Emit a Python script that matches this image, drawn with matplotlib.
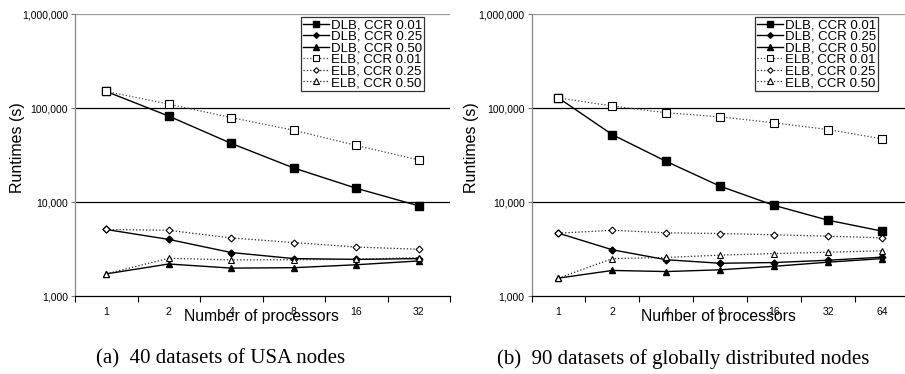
import matplotlib
matplotlib.use("Agg")
import matplotlib.pyplot as plt
import numpy as np
from matplotlib.ticker import FixedLocator, NullLocator, FuncFormatter

# ---- data ----
procs_a = ["1", "2", "4", "8", "16", "32"]
dlb_001_a = [150000, 82000, 42000, 23000, 14000, 9100]
dlb_025_a = [5100, 4000, 2900, 2500, 2450, 2500]
dlb_050_a = [1720, 2190, 1980, 2000, 2150, 2360]
elb_001_a = [150000, 110000, 79000, 58000, 40000, 28000]
elb_025_a = [5100, 5000, 4150, 3700, 3320, 3140]
elb_050_a = [1720, 2520, 2420, 2430, 2460, 2560]

procs_b = ["1", "2", "4", "8", "16", "32", "64"]
dlb_001_b = [128000, 52000, 27000, 14700, 9200, 6400, 4900]
dlb_025_b = [4660, 3100, 2430, 2230, 2270, 2400, 2590]
dlb_050_b = [1550, 1870, 1820, 1900, 2070, 2290, 2500]
elb_001_b = [128000, 105000, 89000, 80500, 69500, 59000, 47000]
elb_025_b = [4660, 5000, 4700, 4620, 4480, 4330, 4160]
elb_050_b = [1550, 2500, 2570, 2720, 2830, 2920, 3030]

labels = ["DLB, CCR 0.01", "DLB, CCR 0.25", "DLB, CCR 0.50",
          "ELB, CCR 0.01", "ELB, CCR 0.25", "ELB, CCR 0.50"]
yticks = [1000, 10000, 100000, 1000000]
captions = ["(a)  40 datasets of USA nodes",
            "(b)  90 datasets of globally distributed nodes"]

plt.rcParams['font.family'] = ['Liberation Sans', 'DejaVu Sans']

W, H = 905, 374
fig = plt.figure(figsize=(W / 100, H / 100), dpi=100)

styles = [
    dict(color='black', ls='-', lw=1.0, marker='s', ms=5.5, mfc='black', mec='black'),
    dict(color='black', ls='-', lw=1.0, marker='D', ms=3.5, mfc='black', mec='black'),
    dict(color='black', ls='-', lw=1.0, marker='^', ms=5, mfc='black', mec='black'),
    dict(color='#444444', ls=':', lw=0.9, marker='s', ms=5.5, mfc='white', mec='black', mew=0.8),
    dict(color='#222222', ls=':', lw=0.9, marker='D', ms=3.5, mfc='white', mec='black', mew=0.8),
    dict(color='#222222', ls=':', lw=0.9, marker='^', ms=5, mfc='white', mec='black', mew=0.8),
]


def draw(rect, procs, series, caption, cap_x, xlab_x, legend_bbox):
    ax = fig.add_axes(rect)
    n = len(procs)
    x = np.arange(n) + 0.5
    for s, lab, st in zip(series, labels, styles):
        ax.plot(x, s, label=lab, **st, zorder=3)
    ax.set_yscale('log')
    ax.set_ylim(1000, 1000000)
    ax.set_xlim(0, n)
    ax.yaxis.set_major_locator(FixedLocator(yticks))
    ax.yaxis.set_minor_locator(NullLocator())
    ax.yaxis.set_major_formatter(FuncFormatter(lambda v, p: f"{int(round(v)):,}"))
    for yv in [10000, 100000]:
        ax.axhline(yv, color='black', lw=0.9, zorder=1)
    ax.axhline(1000000, color='#999999', lw=0.9, zorder=1)
    # x ticks at category boundaries, labels at centers
    ax.set_xticks(np.arange(n + 1))
    ax.set_xticklabels([])
    ax.set_xticks(x, minor=True)
    ax.set_xticklabels(procs, minor=True, fontsize=7.5)
    ax.tick_params(axis='x', which='major', direction='out', length=4, width=0.8)
    ax.tick_params(axis='x', which='minor', length=0, pad=8)
    ax.tick_params(axis='y', which='major', direction='out', length=3, width=0.8,
                   labelsize=7.5, pad=2, color='#777777')
    for side in ['top', 'right']:
        ax.spines[side].set_visible(False)
    ax.spines['left'].set_color('#888888')
    ax.spines['left'].set_linewidth(0.9)
    ax.spines['bottom'].set_linewidth(0.9)
    leg = ax.legend(loc='upper right', bbox_to_anchor=legend_bbox,
                    bbox_transform=fig.transFigure, fontsize=9.5,
                    frameon=True, fancybox=False, edgecolor='black',
                    handlelength=2.0, handletextpad=0.1, borderpad=0.15,
                    labelspacing=-0.05, borderaxespad=0, markerscale=0.8)
    leg.get_frame().set_linewidth(0.9)
    fig.text(xlab_x / W, 1 - 316 / H, "Number of processors", ha='center',
             va='center', fontsize=11.3)
    fig.text(cap_x / W, 1 - 359 / H, caption, ha='center', va='center',
             fontsize=15, family=['Liberation Serif', 'DejaVu Serif'])
    return ax


ax1 = draw([75 / W, 1 - 296 / H, 375 / W, 282 / H], procs_a,
           [dlb_001_a, dlb_025_a, dlb_050_a, elb_001_a, elb_025_a, elb_050_a],
           captions[0], 221, 261, (424 / W, 1 - 17 / H))
ax2 = draw([531.5 / W, 1 - 296 / H, 377.5 / W, 282 / H], procs_b,
           [dlb_001_b, dlb_025_b, dlb_050_b, elb_001_b, elb_025_b, elb_050_b],
           captions[1], 683, 718, (878 / W, 1 - 17 / H))

fig.text(18 / W, 1 - 148 / H, "Runtimes (s)", rotation=90, ha='center', va='center', fontsize=11.5)
fig.text(471 / W, 1 - 148 / H, "Runtimes (s)", rotation=90, ha='center', va='center', fontsize=11.5)

fig.savefig("out.png", dpi=100)
